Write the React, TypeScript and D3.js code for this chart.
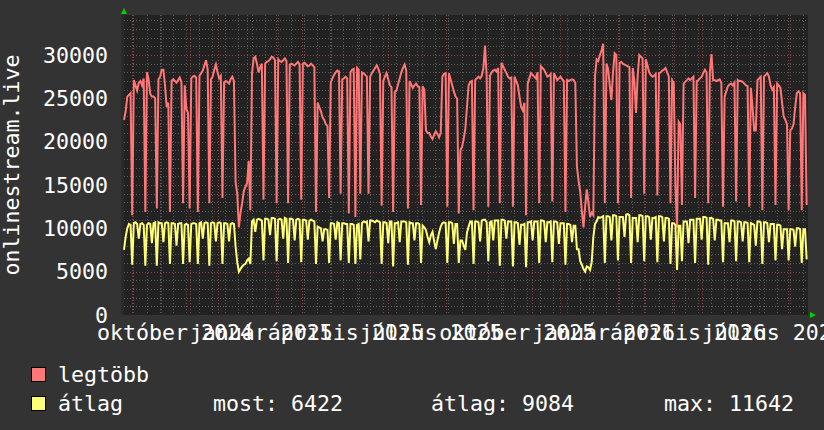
import React from "react";
import * as d3 from "d3";

// ---- data ----
const seriesNames = ["legtöbb", "átlag"];
const seriesColors = ["#ff7777", "#ffff77"];
const startDate = new Date(2024, 7, 23, 0, 0);
const endDate = new Date(2026, 7, 22, 10, 0);
const sampleStepHours = 42;

// "legtöbb" (max) values, one every 1.75 days
const maxValues = [
  22500, 23500, 25200, 25400, 25600, 11500, 27100, 26500,
  25900, 26800, 27000, 26500, 27300, 11900, 28000, 27200,
  25500, 25200, 25200, 25000, 12300, 27200, 27500, 28300,
  28300, 26500, 24000, 24500, 11900, 27000, 27200, 27000,
  26800, 27100, 27400, 26900, 12900, 26500, 23800, 23300,
  12300, 27300, 27500, 27600, 27400, 11900, 27600, 27900,
  28200, 28800, 29400, 28300, 12900, 27200, 27500, 28300,
  28900, 28000, 27300, 27600, 13500, 26800, 27000, 26900,
  26700, 27200, 27500, 27000, 15300, 14000, 10100, 11800,
  12900, 14300, 14800, 15200, 17800, 12100, 27900, 29600,
  29800, 29000, 28000, 28600, 29000, 13300, 29000, 29200,
  29300, 29500, 29800, 29700, 29400, 12900, 29500, 29300,
  29200, 29400, 29600, 29300, 12900, 28900, 29000, 28900,
  28800, 29000, 29200, 28900, 13300, 29000, 29100, 28900,
  28700, 28800, 29000, 28800, 28600, 11900, 24500, 24000,
  23500, 22800, 22500, 22000, 21800, 13500, 26800, 27300,
  27700, 28000, 28200, 28100, 14000, 27200, 27300, 27500,
  27300, 11700, 28000, 28300, 28400, 11300, 28500, 28300,
  14000, 28000, 27900, 27700, 27500, 14000, 27500, 27900,
  28200, 28500, 28800, 28400, 27800, 12600, 27000, 27500,
  27900, 27200, 26500, 26300, 11900, 25700, 25900, 26600,
  27300, 28000, 28500, 28900, 28200, 12300, 27000, 26600,
  26200, 26500, 26700, 26400, 26300, 12700, 26400, 26000,
  21300, 21000, 21000, 20600, 20300, 20800, 21200, 20900,
  20500, 21000, 27500, 27800, 27900, 12500, 27900, 27200,
  26500, 25800, 25200, 25000, 11700, 19000, 19400, 20300,
  21500, 24000, 26500, 26900, 27000, 12100, 27100, 27300,
  27500, 27300, 27600, 28500, 31100, 27500, 12500, 27600,
  28000, 28200, 28300, 28100, 28500, 12900, 29100, 28700,
  28300, 27900, 27500, 27300, 27400, 12500, 27500, 27000,
  26500, 25200, 24000, 23600, 24500, 11500, 26700, 27300,
  27900, 27700, 27500, 27300, 28000, 12900, 28700, 28500,
  28300, 27900, 27500, 27600, 27800, 13100, 27900, 27500,
  27100, 27300, 27500, 27200, 27000, 11900, 27100, 27000,
  27100, 27200, 27100, 26800, 17100, 15500, 14200, 12000,
  10100, 12500, 14500, 13000, 11300, 11800, 11500, 27500,
  29500, 29300, 30000, 30500, 31300, 12900, 29000, 28400,
  26500, 24800, 28000, 30200, 30000, 12900, 29100, 29200,
  29000, 28900, 28800, 28700, 28600, 13500, 28500, 27000,
  23300, 27500, 30000, 29800, 29600, 14000, 29500, 28800,
  28000, 27700, 27500, 27600, 27800, 13800, 27900, 28000,
  28200, 28300, 28500, 28000, 27500, 12900, 27100, 26800,
  15000, 10100, 22300, 22000, 12700, 26700, 26900, 27100,
  27300, 27100, 27300, 27500, 13500, 27000, 27100, 27300,
  27500, 27900, 28300, 28000, 12900, 28000, 30100, 27100,
  27100, 27000, 27100, 27200, 26800, 12500, 25200, 25800,
  26400, 26600, 26700, 26500, 26800, 13100, 27100, 27000,
  27000, 26900, 26700, 26500, 26400, 12500, 26200, 24000,
  21300, 21300, 27100, 27300, 27500, 12100, 27500, 27700,
  27900, 27500, 26500, 26000, 26300, 12700, 26700, 26500,
  26200, 24500, 22900, 22500, 22000, 12100, 21300, 21500,
  22000, 24000, 25600, 25800, 25600, 12100, 25600, 25400,
  12700,
];

// "átlag" (average) values, same sampling
const avgValues = [
  7500, 9000, 10000, 10500, 10400, 5800, 10600, 10700,
  10500, 8800, 10500, 10600, 10400, 5700, 10400, 10600,
  10500, 8300, 10600, 10700, 5700, 10700, 10600, 10600,
  8400, 10600, 10700, 10600, 5900, 10600, 10600, 10500,
  8000, 10500, 10600, 10600, 5900, 10400, 10500, 10400,
  6100, 10500, 10600, 10600, 10500, 5900, 10600, 10700,
  8800, 10600, 10700, 10600, 5700, 10600, 10700, 10600,
  8500, 10600, 10700, 10600, 5900, 10600, 10600, 10500,
  8500, 10500, 10600, 10500, 7900, 6100, 5000, 5300,
  5600, 5800, 5900, 6300, 6500, 5900, 10800, 11000,
  9600, 11000, 11100, 11000, 10900, 6300, 11100, 11100,
  11000, 9200, 11200, 11200, 11100, 6200, 11000, 11100,
  11000, 8800, 11200, 11100, 6000, 11100, 11100, 11000,
  8600, 11000, 11100, 11000, 6100, 11000, 11000, 10900,
  8700, 10900, 11000, 10900, 10800, 5900, 10200, 10100,
  10000, 8500, 9900, 9900, 9800, 6000, 10600, 10600,
  10500, 8700, 10700, 10600, 6300, 10600, 10600, 10500,
  10500, 6000, 10500, 10500, 10400, 5900, 10400, 10500,
  6400, 10600, 10800, 10700, 10800, 8500, 10900, 10900,
  10800, 10700, 10900, 10800, 10700, 5900, 10700, 10700,
  10600, 8300, 10800, 10800, 5600, 10600, 10600, 10700,
  8400, 10800, 10800, 10800, 10700, 5800, 10700, 10600,
  10600, 8600, 10600, 10600, 10500, 6000, 10300, 10100,
  9800, 9000, 8400, 9200, 9600, 8500, 7600, 8600,
  9500, 10200, 10600, 10700, 10600, 6000, 10700, 10700,
  10600, 8200, 10500, 10500, 6000, 8600, 8600, 8000,
  7500, 9500, 10200, 10800, 10800, 5900, 10800, 10800,
  10700, 8500, 10900, 11000, 11000, 10700, 6200, 10700,
  10800, 8600, 10900, 10900, 10900, 5700, 11000, 11000,
  10900, 8800, 10800, 10800, 10800, 5600, 10700, 10700,
  10600, 8100, 10400, 10400, 10500, 5500, 10700, 10700,
  10800, 8600, 10800, 10800, 10800, 6000, 10900, 10900,
  10800, 8400, 10700, 10700, 10800, 6100, 10800, 10800,
  10700, 8200, 10600, 10600, 10600, 5800, 10500, 10500,
  10400, 8400, 10300, 10300, 7600, 7600, 6200, 5800,
  5300, 5000, 5600, 5500, 5200, 6100, 9000, 10500,
  10800, 11300, 11200, 11300, 11400, 6000, 11400, 11400,
  11300, 8600, 11500, 11500, 11400, 6300, 11300, 11300,
  11300, 9000, 11600, 11642, 11500, 6000, 11200, 11200,
  11200, 8400, 11500, 11500, 11400, 6200, 11400, 11400,
  11300, 8700, 11200, 11200, 11300, 6100, 11400, 11400,
  11300, 8500, 11200, 11200, 11100, 5900, 10600, 10600,
  10400, 5200, 10300, 10300, 6200, 10800, 10800, 10800,
  8300, 11000, 11000, 11000, 6000, 11100, 11100, 11100,
  8700, 11300, 11300, 11200, 5800, 11200, 11200, 11100,
  8600, 11000, 11000, 10900, 10900, 6100, 10600, 10600,
  10600, 8400, 10900, 10900, 10800, 6200, 10800, 10800,
  10700, 8500, 10700, 10700, 10600, 6100, 10600, 10500,
  10400, 8000, 10800, 10800, 10700, 5900, 10700, 10700,
  10600, 8400, 10500, 10500, 10500, 6300, 10400, 10400,
  10300, 7600, 9900, 9900, 9900, 6300, 9900, 9900,
  9800, 7900, 10000, 10000, 9900, 6000, 9900, 9900,
  6422,
];

const yTickValues = [0, 5000, 10000, 15000, 20000, 25000, 30000];
const yMinorStep = 1000;
const yMax = 34615;

const xLabelDates = [
  new Date(2024, 9, 1), new Date(2025, 0, 1), new Date(2025, 3, 1), new Date(2025, 6, 1),
  new Date(2025, 9, 1), new Date(2026, 0, 1), new Date(2026, 3, 1), new Date(2026, 6, 1),
];
const xLabelTexts = [
  "október 2024", "január 2025", "április 2025", "július 2025",
  "október 2025", "január 2026", "április 2026", "július 2026",
];
const labelShiftHours = 370;
const minorGridBase = new Date(2024, 8, 2);
const minorGridStepDays = 14;

const axisTitle = "onlinestream.live";
const statLabels = ["most: 6422", "átlag: 9084", "max: 11642"];

// ---- styles ----
const FONT = "'DejaVu Sans Mono', monospace";
const BG = "#333333";
const PLOT_BG = "#222222";
const GRID_MINOR = "#5a5a5a";
const GRID_MAJOR = "#8c4242";
const ARROW = "#00d000";
const TEXT = "#ffffff";

export default function App() {
  const W = 824;
  const H = 430;
  const plot = { left: 124, right: 808, top: 15, bottom: 315 };

  const x = d3.scaleTime().domain([startDate, endDate]).range([plot.left, plot.right]);
  const y = d3.scaleLinear().domain([0, yMax]).range([plot.bottom, plot.top]);

  const dates = maxValues.map((_, i) => new Date(startDate.getTime() + i * sampleStepHours * 3600e3));
  const lineGen = (vals: number[]) =>
    d3.line<number>().x((_, i) => x(dates[i])).y((d) => y(d))(vals) || "";

  const minorY = d3.range(0, yMax, yMinorStep).filter((v) => v % 5000 !== 0);
  const monthTicks = d3.timeMonth.range(startDate, endDate);
  const minorX: Date[] = [];
  for (let d = minorGridBase; d < endDate; d = d3.timeDay.offset(d, minorGridStepDays)) minorX.push(d);

  const axisFont = 21.6;
  const legendFont = 21.6;
  const yLabelRight = 108;
  const xLabelBaseline = 340;

  const legendX = 31;
  const legendRows = [382, 411];
  const statX = [213, 431, 664];
  const midY = (plot.top + plot.bottom) / 2;

  return (
    <svg
      width={W}
      height={H}
      viewBox={`0 0 ${W} ${H}`}
      style={{ position: "absolute", left: 0, top: 0, display: "block" }}
      fontFamily={FONT}
    >
      <rect x={0} y={0} width={W} height={H} fill={BG} />
      <rect x={plot.left - 3} y={plot.top} width={3} height={plot.bottom - plot.top} fill="#2a2a2a" />
      <rect x={plot.left} y={plot.top} width={plot.right - plot.left} height={plot.bottom - plot.top} fill={PLOT_BG} />

      {/* minor grid */}
      <g stroke={GRID_MINOR} strokeWidth={1} strokeDasharray="1 2" shapeRendering="crispEdges">
        {minorY.map((v) => (
          <line key={"my" + v} x1={plot.left} x2={plot.right} y1={Math.round(y(v)) + 0.5} y2={Math.round(y(v)) + 0.5} />
        ))}
        {minorX.filter((d) => x(d) > plot.left && x(d) < plot.right).map((d, i) => (
          <line key={"mx" + i} x1={Math.round(x(d)) + 0.5} x2={Math.round(x(d)) + 0.5} y1={plot.top} y2={plot.bottom} />
        ))}
      </g>
      {/* major grid */}
      <g stroke={GRID_MAJOR} strokeWidth={1} strokeDasharray="1 2" shapeRendering="crispEdges">
        {yTickValues.filter((v) => v > 0).map((v) => (
          <line key={"My" + v} x1={plot.left} x2={plot.right} y1={Math.round(y(v)) + 0.5} y2={Math.round(y(v)) + 0.5} />
        ))}
        {monthTicks.map((d, i) => (
          <line key={"Mx" + i} x1={Math.round(x(d)) + 0.5} x2={Math.round(x(d)) + 0.5} y1={plot.top} y2={plot.bottom} />
        ))}
      </g>

      {/* series */}
      <path d={lineGen(maxValues)} fill="none" stroke={seriesColors[0]} strokeWidth={2} />
      <path d={lineGen(avgValues)} fill="none" stroke={seriesColors[1]} strokeWidth={2} />

      {/* arrows */}
      <polygon
        points={`${plot.left - 3},${plot.top - 1} ${plot.left + 3},${plot.top - 1} ${plot.left},${plot.top - 7}`}
        fill={ARROW}
      />
      <polygon
        points={`${plot.right + 2},${plot.bottom - 3} ${plot.right + 2},${plot.bottom + 3} ${plot.right + 8},${plot.bottom}`}
        fill={ARROW}
      />

      {/* y labels */}
      <g fill={TEXT} fontSize={axisFont} textAnchor="end">
        {yTickValues.map((v) => (
          <text key={"yl" + v} x={yLabelRight} y={y(v) + 7.8}>
            {v}
          </text>
        ))}
      </g>

      {/* x labels */}
      <g fill={TEXT} fontSize={axisFont} textAnchor="middle">
        {xLabelDates.map((d, i) => (
          <text key={"xl" + i} x={x(d3.timeHour.offset(d, labelShiftHours))} y={xLabelBaseline} style={{ whiteSpace: "pre" }}>
            {xLabelTexts[i]}
          </text>
        ))}
      </g>

      {/* vertical title */}
      <text
        x={18.5}
        y={midY}
        transform={`rotate(-90, 18.5, ${midY})`}
        fill={TEXT}
        fontSize={axisFont}
        textAnchor="middle"
      >
        {axisTitle}
      </text>

      {/* legend */}
      <g fontSize={legendFont} fill={TEXT}>
        {seriesNames.map((name, i) => (
          <g key={name}>
            <rect
              x={legendX + 0.5}
              y={legendRows[i] - 15 + 0.5}
              width={14}
              height={14}
              fill={seriesColors[i]}
              stroke="#000000"
              strokeWidth={1}
            />
            <text x={legendX + 27} y={legendRows[i]}>
              {name}
            </text>
          </g>
        ))}
        {statLabels.map((s, i) => (
          <text key={s} x={statX[i]} y={legendRows[1]}>
            {s}
          </text>
        ))}
      </g>
    </svg>
  );
}
